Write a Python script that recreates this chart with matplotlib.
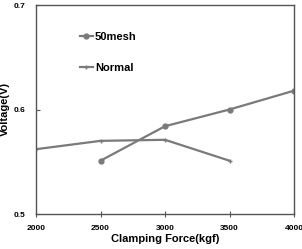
import matplotlib
matplotlib.use("Agg")
import matplotlib.pyplot as plt

plt.rcParams['font.family'] = ['Liberation Sans', 'DejaVu Sans']
plt.rcParams['font.weight'] = 'bold'

# data
force_mesh = [2500, 3000, 3500, 4000]
volt_mesh = [0.551, 0.584, 0.600, 0.618]
force_normal = [2000, 2500, 3000, 3500]
volt_normal = [0.562, 0.570, 0.571, 0.551]
xticks = [2000, 2500, 3000, 3500, 4000]
yticks = [0.5, 0.6, 0.7]

line_col = '#7a7a7a'
axis_col = '#555555'

fig = plt.figure(figsize=(3.02, 2.49), dpi=100)
ax = fig.add_axes([36 / 302, 35 / 249, 258 / 302, 209 / 249])

ax.plot(force_mesh, volt_mesh, color=line_col, lw=1.6, marker='o', ms=3.5, label='50mesh')
ax.plot(force_normal, volt_normal, color=line_col, lw=1.6, marker='+', ms=3, mew=1, label='Normal')

ax.set_xlim(2000, 4000)
ax.set_ylim(0.5, 0.7)
ax.set_xticks(xticks)
ax.set_yticks(yticks)
ax.set_xticklabels([str(t) for t in xticks], fontsize=6, fontweight='bold')
ax.set_yticklabels(['%.1f' % t for t in yticks], fontsize=6, fontweight='bold')
ax.tick_params(axis='x', direction='inout', length=4, width=0.8, color=axis_col, pad=6)
ax.tick_params(axis='y', direction='in', length=3, width=0.8, color=axis_col, pad=8)
for s in ax.spines.values():
    s.set_color(axis_col)
    s.set_linewidth(1.0)

ax.set_xlabel('Clamping Force(kgf)', fontsize=8, fontweight='bold', labelpad=1)
ax.set_ylabel('Voltage(V)', fontsize=8, fontweight='bold', labelpad=2)

leg = ax.legend(loc='upper left', bbox_to_anchor=(0.13, 0.92), frameon=False,
                handlelength=1.2, handletextpad=0.2, labelspacing=1.9,
                prop={'weight': 'bold', 'size': 8})

fig.savefig('out.png', dpi=100)
